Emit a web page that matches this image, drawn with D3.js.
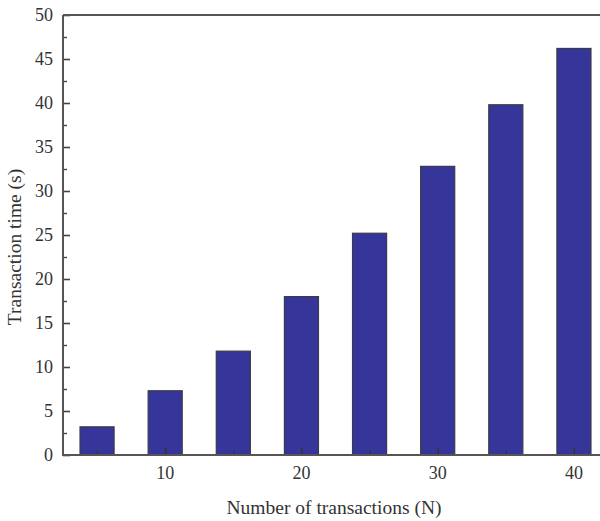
<!DOCTYPE html>
<html>
<head>
<meta charset="utf-8">
<script src="https://cdn.jsdelivr.net/npm/d3@7"></script>
<style>
  body { margin: 0; background: #fff; }
  svg { display: block; }
  text { font-family: "Liberation Serif", "Times New Roman", serif; fill: #333; }
</style>
</head>
<body>
<div id="chart"></div>
<script>
// data
const counts = [5, 10, 15, 20, 25, 30, 35, 40];
const times = [3.2, 7.3, 11.8, 18.0, 25.2, 32.8, 39.8, 46.2];
const xTicks = [10, 20, 30, 40];
const yTicks = [0, 5, 10, 15, 20, 25, 30, 35, 40, 45, 50];

const W = 600, H = 521;
let margin = {top: 15, right: -8, bottom: 66, left: 63};

const svg = d3.select("#chart")
  .append("svg")
    .attr("width", W)
    .attr("height", H);

let x = d3.scaleLinear()
    .domain([2.5, 42.5])
    .range([margin.left, W - margin.right]);

let y = d3.scaleLinear()
    .domain([0, 50])
    .range([H - margin.bottom, margin.top]);

const barW = x(2.5 + 2.5) - x(2.5);

// bars
svg.append("g")
  .selectAll("rect")
  .data(counts)
  .join("rect")
    .attr("x", (d) => x(d) - barW / 2)
    .attr("y", (d, i) => y(times[i]))
    .attr("width", barW)
    .attr("height", (d, i) => y(0) - y(times[i]))
    .attr("fill", "#36369a")
    .attr("stroke", "#3a3a4a")
    .attr("stroke-width", 1.2);

// y axis (ticks point inward)
svg.append("g")
    .attr("transform", `translate(${margin.left},0)`)
    .call(d3.axisRight(y).tickValues(yTicks).tickSize(7).tickFormat(""))
    .call(g => g.select(".domain").remove())
    .selectAll("line").attr("stroke", "#444").attr("stroke-width", 1.6);

svg.append("g")
    .attr("transform", `translate(${margin.left},0)`)
    .call(d3.axisRight(y).tickValues(d3.range(2.5, 50, 5)).tickSize(4).tickFormat(""))
    .call(g => g.select(".domain").remove())
    .selectAll("line").attr("stroke", "#444").attr("stroke-width", 1.4);

svg.append("g")
  .selectAll("text")
  .data(yTicks)
  .join("text")
    .attr("x", margin.left - 10)
    .attr("y", d => y(d))
    .attr("dy", "0.35em")
    .attr("text-anchor", "end")
    .attr("font-size", 18)
    .text(d => d);

// x axis ticks (inward), minor at bar centres between
svg.append("g")
    .attr("transform", `translate(0,${y(0)})`)
    .call(d3.axisTop(x).tickValues(xTicks).tickSize(7).tickFormat(""))
    .call(g => g.select(".domain").remove())
    .selectAll("line").attr("stroke", "#333").attr("stroke-width", 1.6);

svg.append("g")
    .attr("transform", `translate(0,${y(0)})`)
    .call(d3.axisTop(x).tickValues([5, 15, 25, 35]).tickSize(4).tickFormat(""))
    .call(g => g.select(".domain").remove())
    .selectAll("line").attr("stroke", "#333").attr("stroke-width", 1.4);

svg.append("g")
  .selectAll("text")
  .data(xTicks)
  .join("text")
    .attr("x", d => x(d))
    .attr("y", y(0) + 24)
    .attr("text-anchor", "middle")
    .attr("font-size", 18)
    .text(d => d);

// frame: left, bottom, top
svg.append("path")
    .attr("d", `M${margin.left},${margin.top}V${y(0)}H${W + 10}M${margin.left},${margin.top}H${W + 10}`)
    .attr("fill", "none")
    .attr("stroke", "#555")
    .attr("stroke-width", 2);

// axis titles
svg.append("text")
    .attr("x", 334)
    .attr("y", 514)
    .attr("text-anchor", "middle")
    .attr("font-size", 19.5)
    .text("Number of transactions (N)");

svg.append("text")
    .attr("transform", "translate(21,247) rotate(-90)")
    .attr("text-anchor", "middle")
    .attr("font-size", 19.5)
    .text("Transaction time (s)");
</script>
</body>
</html>
